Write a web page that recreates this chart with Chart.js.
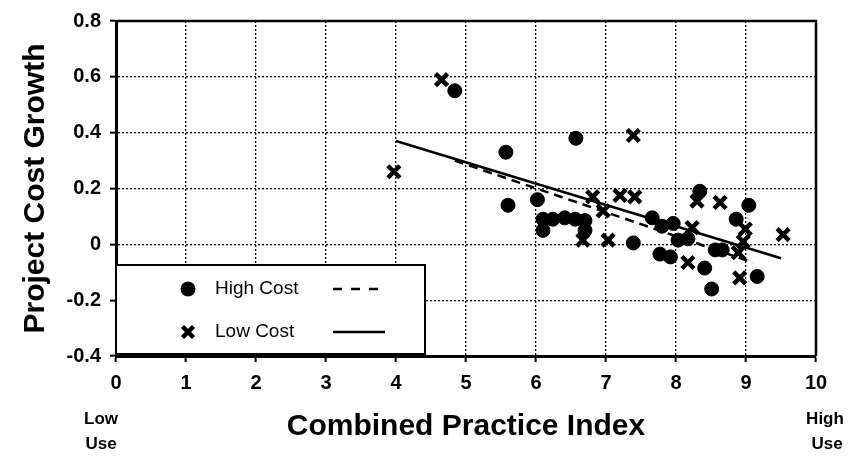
<!DOCTYPE html>
<html>
<head>
<meta charset="utf-8">
<title>Project Cost Growth vs Combined Practice Index</title>
<script src="https://cdn.jsdelivr.net/npm/chart.js@4/dist/chart.umd.min.js"></script>
<style>
  html, body { margin: 0; padding: 0; background: #fff; }
  #wrap { width: 848px; height: 459px; position: relative; }
</style>
</head>
<body>
<div id="wrap"><canvas id="cost-chart"></canvas></div>
<script>
// project data: practice index vs. cost growth
const highX = [4.84, 5.57, 5.60, 6.02, 6.57, 6.10, 6.10, 6.24, 6.41, 6.56, 6.70, 6.70, 7.39, 7.66,
               7.80, 7.96, 8.03, 8.17, 7.77, 7.92, 8.41, 8.51, 8.56, 8.66, 8.34, 8.86, 9.04, 9.16];
const highY = [0.55, 0.33, 0.14, 0.16, 0.38, 0.05, 0.09, 0.09, 0.095, 0.09, 0.085, 0.05, 0.005, 0.095,
               0.065, 0.075, 0.015, 0.02, -0.035, -0.045, -0.085, -0.16, -0.02, -0.02, 0.19, 0.09, 0.14, -0.115];

const lowX = [3.97, 4.65, 7.39, 6.81, 7.20, 7.41, 6.96, 6.67, 7.03, 8.30, 8.63, 8.99, 9.53, 8.96,
              8.89, 8.17, 8.91, 8.23];
const lowY = [0.26, 0.59, 0.39, 0.17, 0.175, 0.17, 0.12, 0.015, 0.015, 0.155, 0.15, 0.055, 0.035, 0.01,
              -0.03, -0.065, -0.12, 0.06];

// fitted trend lines (end points)
const highFitX = [4.84, 9.10];
const highFitY = [0.30, -0.065];
const lowFitX = [4.00, 9.50];
const lowFitY = [0.37, -0.05];

const xTicks = [0, 1, 2, 3, 4, 5, 6, 7, 8, 9, 10];
const yTicks = [-0.4, -0.2, 0, 0.2, 0.4, 0.6, 0.8];

const ink = '#000';
const FONT = "'Liberation Sans', Arial, Helvetica, sans-serif";

function toPoints(xs, ys) {
  return xs.map((x, i) => ({ x: x, y: ys[i] }));
}

// top and right edges of the plot box
const frame = {
  id: 'frame',
  afterDatasetsDraw(chart) {
    const { ctx, chartArea: a } = chart;
    ctx.save();
    ctx.strokeStyle = ink;
    ctx.lineWidth = 2.5;
    ctx.beginPath();
    ctx.moveTo(a.left, a.top);
    ctx.lineTo(a.right, a.top);
    ctx.lineTo(a.right, a.bottom);
    ctx.stroke();
    ctx.restore();
  }
};

// boxed legend in the lower left corner
const legendBox = {
  id: 'legendBox',
  afterDraw(chart) {
    const { ctx, chartArea: a } = chart;
    const x0 = a.left, y0 = a.bottom - 91, w = 309, h = 89;
    ctx.save();
    ctx.fillStyle = '#fff';
    ctx.fillRect(x0, y0, w, h);
    ctx.strokeStyle = ink;
    ctx.lineWidth = 2;
    ctx.strokeRect(x0, y0, w, h);

    const rows = [y0 + 24, y0 + 67];
    const mx = x0 + 72;

    // circle marker
    ctx.fillStyle = ink;
    ctx.beginPath();
    ctx.arc(mx, rows[0], 7.5, 0, Math.PI * 2);
    ctx.fill();

    // x marker
    ctx.lineWidth = 4.5;
    ctx.beginPath();
    ctx.moveTo(mx - 5.5, rows[1] - 5.5);
    ctx.lineTo(mx + 5.5, rows[1] + 5.5);
    ctx.moveTo(mx + 5.5, rows[1] - 5.5);
    ctx.lineTo(mx - 5.5, rows[1] + 5.5);
    ctx.stroke();

    ctx.font = '19px ' + FONT;
    ctx.textAlign = 'left';
    ctx.textBaseline = 'middle';
    ctx.fillText('High Cost', x0 + 99, rows[0]);
    ctx.fillText('Low Cost', x0 + 99, rows[1]);

    ctx.lineWidth = 2.5;
    ctx.setLineDash([9, 9]);
    ctx.beginPath();
    ctx.moveTo(x0 + 217, rows[0]);
    ctx.lineTo(x0 + 270, rows[0]);
    ctx.stroke();
    ctx.setLineDash([]);
    ctx.beginPath();
    ctx.moveTo(x0 + 217, rows[1]);
    ctx.lineTo(x0 + 269, rows[1]);
    ctx.stroke();
    ctx.restore();
  }
};

// "Low Use" / "High Use" notes under the ends of the x axis
const useNotes = {
  id: 'useNotes',
  afterDraw(chart) {
    const { ctx, chartArea: a } = chart;
    ctx.save();
    ctx.fillStyle = ink;
    ctx.font = 'bold 17px ' + FONT;
    ctx.textAlign = 'center';
    ctx.textBaseline = 'middle';
    ctx.fillText('Low', a.left - 15, 419);
    ctx.fillText('Use', a.left - 15, 444);
    ctx.fillText('High', a.right + 9, 419);
    ctx.fillText('Use', a.right + 11, 444);
    ctx.restore();
  }
};

const tickFont = { family: FONT, size: 20, weight: 'bold' };
const titleFont = { family: FONT, size: 30, weight: 'bold' };

const config = {
  type: 'scatter',
  data: {
    datasets: [
      {
        label: 'High Cost trend',
        data: toPoints(highFitX, highFitY),
        showLine: true,
        borderColor: ink,
        borderWidth: 2.5,
        borderDash: [9, 6],
        pointRadius: 0
      },
      {
        label: 'Low Cost trend',
        data: toPoints(lowFitX, lowFitY),
        showLine: true,
        borderColor: ink,
        borderWidth: 2.5,
        pointRadius: 0
      },
      {
        label: 'High Cost',
        data: toPoints(highX, highY),
        pointStyle: 'circle',
        pointRadius: 7,
        backgroundColor: ink,
        borderColor: ink,
        borderWidth: 1
      },
      {
        label: 'Low Cost',
        data: toPoints(lowX, lowY),
        pointStyle: 'crossRot',
        pointRadius: 8.5,
        backgroundColor: ink,
        borderColor: ink,
        borderWidth: 4.5
      }
    ]
  },
  options: {
    responsive: true,
    maintainAspectRatio: false,
    animation: false,
    layout: { padding: { left: 0, right: 32, top: 14, bottom: 0 } },
    plugins: {
      legend: { display: false },
      tooltip: { enabled: false }
    },
    scales: {
      x: {
        type: 'linear',
        min: 0,
        max: 10,
        afterBuildTicks: s => { s.ticks = xTicks.map(v => ({ value: v })); },
        afterFit: s => { s.height = 103; },
        ticks: { color: ink, font: tickFont, padding: 9, maxRotation: 0 },
        grid: { color: ink, lineWidth: 1.3, tickLength: 6, tickColor: ink, tickWidth: 2 },
        border: { color: ink, width: 3, dash: [2, 2] },
        title: {
          display: true,
          text: 'Combined Practice Index',
          color: ink,
          font: titleFont,
          padding: { top: 0, bottom: 14 }
        }
      },
      y: {
        min: -0.4,
        max: 0.8,
        afterBuildTicks: s => { s.ticks = yTicks.map(v => ({ value: v })); },
        afterFit: s => { s.width = 116; },
        ticks: {
          color: ink,
          font: tickFont,
          padding: 9,
          callback: v => String(Number(v.toFixed(1)))
        },
        grid: { color: ink, lineWidth: 1.3, tickLength: 6, tickColor: ink, tickWidth: 2 },
        border: { color: ink, width: 3, dash: [2, 2] },
        title: {
          display: true,
          text: 'Project Cost Growth',
          color: ink,
          font: titleFont,
          padding: { top: 18, bottom: 0 }
        }
      }
    }
  },
  plugins: [frame, legendBox, useNotes]
};

document.addEventListener('DOMContentLoaded', function() {
  const ctx = document.getElementById('cost-chart').getContext('2d');
  new Chart(ctx, config);
});
</script>
</body>
</html>
